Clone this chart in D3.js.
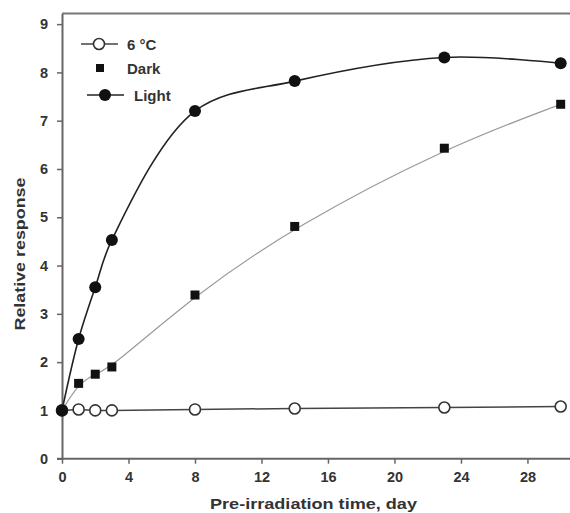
<!DOCTYPE html>
<html>
<head>
<meta charset="utf-8">
<script src="https://cdn.jsdelivr.net/npm/d3@7"></script>
<style>
  body { margin: 0; background: #fff; }
  text { font-family: "Liberation Sans", Arial, sans-serif; font-weight: bold; fill: #333; }
</style>
</head>
<body>
<svg id="chart" width="570" height="513"></svg>
<script>
// data
const days = [0, 1, 2, 3, 8, 14, 23, 30]
const cold = [1, 1.02, 1.0, 1.0, 1.02, 1.04, 1.06, 1.08]
const dark = [1, 1.56, 1.75, 1.9, 3.39, 4.81, 6.43, 7.34]
const light = [1, 2.48, 3.55, 4.53, 7.2, 7.82, 8.31, 8.19]
const xTicks = [0, 4, 8, 12, 16, 20, 24, 28]
const yTicks = [0, 1, 2, 3, 4, 5, 6, 7, 8, 9]

const svg = d3.select("#chart")

const x = d3.scaleLinear().domain([0, 30.5]).range([62, 569])
const y = d3.scaleLinear().domain([0, 9.22]).range([458.7, 13.5])

// frame top
svg.append("line")
  .attr("x1", 62).attr("x2", 570)
  .attr("y1", y(9.22)).attr("y2", y(9.22))
  .attr("stroke", "#777").attr("stroke-width", 2)

// axes
const xAxis = svg.append("g")
  .attr("transform", "translate(0," + y(0) + ")")
  .call(d3.axisBottom(x).tickValues(xTicks).tickSize(5).tickPadding(8).tickSizeOuter(0))
const yAxis = svg.append("g")
  .attr("transform", "translate(" + x(0) + ",0)")
  .call(d3.axisLeft(y).tickValues(yTicks).tickSize(5).tickPadding(9).tickSizeOuter(0))

for (const ax of [xAxis, yAxis]) {
  ax.select(".domain").attr("stroke", "#666").attr("stroke-width", 2)
  ax.selectAll(".tick line").attr("stroke", "#666").attr("stroke-width", 1.5)
  ax.selectAll(".tick text").attr("font-size", 14.5).attr("fill", "#333")
    .style("font-family", "Liberation Sans, Arial, sans-serif").style("font-weight", "bold")
}
// x axis line runs left past the y axis a little
xAxis.select(".domain").attr("d", "M" + (x(0) - 5) + ",0H570")

// axis titles
svg.append("text")
  .attr("x", 313.5).attr("y", 509)
  .attr("text-anchor", "middle")
  .attr("font-size", 15.5)
  .attr("textLength", 207).attr("lengthAdjust", "spacingAndGlyphs")
  .text("Pre-irradiation time, day")
svg.append("text")
  .attr("transform", "translate(25," + 254 + ") rotate(-90)")
  .attr("text-anchor", "middle")
  .attr("font-size", 14)
  .attr("textLength", 153).attr("lengthAdjust", "spacingAndGlyphs")
  .text("Relative response")

const pts = arr => days.map((d, i) => [d, arr[i]])

// lines
const line = d3.line().x(d => x(d[0])).y(d => y(d[1]))
svg.append("path")
  .attr("d", line.curve(d3.curveBasis)(pts(dark)))
  .attr("fill", "none").attr("stroke", "#999").attr("stroke-width", 1.2)
svg.append("path")
  .attr("d", line.curve(d3.curveLinear)(pts(cold)))
  .attr("fill", "none").attr("stroke", "#444").attr("stroke-width", 1.5)
svg.append("path")
  .attr("d", line.curve(d3.curveCatmullRom.alpha(0.5))(pts(light)))
  .attr("fill", "none").attr("stroke", "#222").attr("stroke-width", 1.6)

// markers
svg.selectAll(".sq").data(pts(dark)).enter().append("rect")
  .attr("x", d => x(d[0]) - 4.5).attr("y", d => y(d[1]) - 4.5)
  .attr("width", 9).attr("height", 9)
  .attr("fill", "#111")
svg.selectAll(".oc").data(pts(cold)).enter().append("circle")
  .attr("cx", d => x(d[0])).attr("cy", d => y(d[1])).attr("r", 5.5)
  .attr("fill", "#fff").attr("stroke", "#333").attr("stroke-width", 1.6)
svg.selectAll(".fc").data(pts(light)).enter().append("circle")
  .attr("cx", d => x(d[0])).attr("cy", d => y(d[1])).attr("r", 6)
  .attr("fill", "#111")

// legend
const lg = svg.append("g")
lg.append("line").attr("x1", 81).attr("x2", 118).attr("y1", 44).attr("y2", 44)
  .attr("stroke", "#444").attr("stroke-width", 1.5)
lg.append("circle").attr("cx", 99).attr("cy", 44).attr("r", 5.5)
  .attr("fill", "#fff").attr("stroke", "#333").attr("stroke-width", 1.6)
lg.append("text").attr("x", 127).attr("y", 49.5).attr("font-size", 15).text("6 °C")
lg.append("rect").attr("x", 96).attr("y", 64).attr("width", 8).attr("height", 8).attr("fill", "#111")
lg.append("text").attr("x", 127).attr("y", 73.5).attr("font-size", 15).text("Dark")
lg.append("line").attr("x1", 87).attr("x2", 124).attr("y1", 95).attr("y2", 95)
  .attr("stroke", "#222").attr("stroke-width", 1.6)
lg.append("circle").attr("cx", 105).attr("cy", 95).attr("r", 6).attr("fill", "#111")
lg.append("text").attr("x", 134).attr("y", 100.5).attr("font-size", 15).text("Light")
</script>
</body>
</html>
